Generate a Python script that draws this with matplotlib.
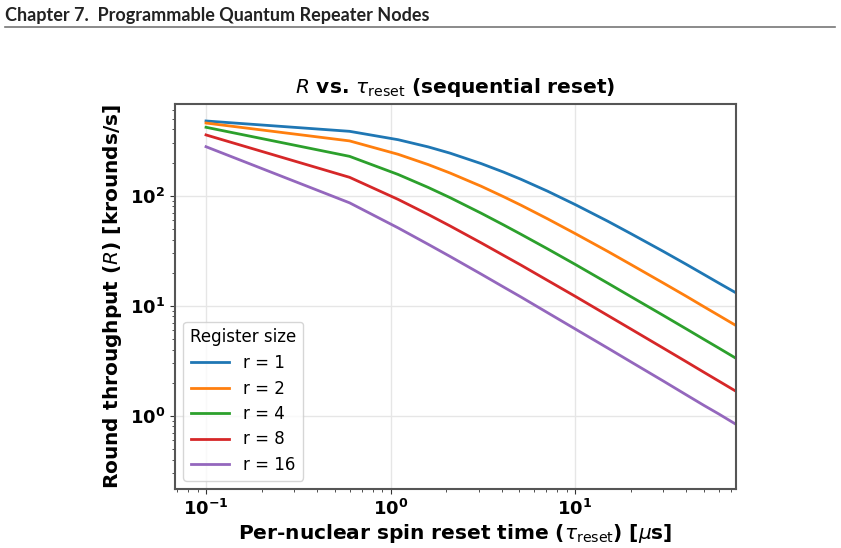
import numpy as np
import matplotlib.pyplot as plt

# reset time per nuclear spin [us]
tau = [0.1, 0.6, 1.1, 1.6, 2.1, 3.1, 4.1, 5.1, 7.1, 10.1, 15.1, 20.1, 30.1, 40.1, 50.1, 60.1, 74.6]

# round throughput [krounds/s], one list per register size
R_r1 = [478, 385, 323, 278, 244, 196, 164, 141, 110, 82.6, 58.5, 45.2, 31.2, 23.8, 19.2, 16.1, 13.1]
R_r2 = [458, 315, 238, 192, 161, 122, 98.0, 82.0, 61.7, 45.0, 31.1, 23.7, 16.1, 12.2, 9.78, 8.18, 6.61]
R_r4 = [419, 228, 156, 119, 96.2, 69.4, 54.3, 44.6, 32.9, 23.6, 16.0, 12.1, 8.17, 6.16, 4.94, 4.13, 3.33]
R_r8 = [357, 147, 92.6, 67.6, 53.2, 37.3, 28.7, 23.4, 17.0, 12.1, 8.14, 6.14, 4.12, 3.10, 2.48, 2.07, 1.67]
R_r16 = [279, 86.2, 51.0, 36.2, 28.1, 19.4, 14.8, 12.0, 8.65, 6.11, 4.11, 3.09, 2.07, 1.55, 1.24, 1.04, 0.836]

series = [R_r1, R_r2, R_r4, R_r8, R_r16]
labels = ['r = 1', 'r = 2', 'r = 4', 'r = 8', 'r = 16']
colors = ['#1f77b4', '#ff7f0e', '#2ca02c', '#d62728', '#9467bd']

fig = plt.figure(figsize=(8.41, 5.48), dpi=100)

# page header
fig.text(5 / 841, 1 - 15 / 548, 'Chapter 7.  Programmable Quantum Repeater Nodes',
         fontsize=13, fontweight='bold', family='Lato', va='center', ha='left',
         color='#222222')
fig.add_artist(plt.Line2D([5 / 841, 835 / 841], [1 - 27 / 548, 1 - 27 / 548],
                          color='#777777', lw=1.2))

ax = fig.add_axes([175 / 841, 1 - 489 / 548, (736 - 175) / 841, (489 - 104) / 548])

for vals, lab, c in zip(series, labels, colors):
    ax.plot(tau, vals, color=c, lw=2, label=lab)

ax.set_xscale('log')
ax.set_yscale('log')
ax.set_xlim(0.0679, 74.6)
ax.set_ylim(0.216, 682)
ax.grid(True, which='major', color='#e6e6e6', lw=1)

for sp in ax.spines.values():
    sp.set_color('#555555')
    sp.set_linewidth(1.5)

ax.tick_params(which='both', colors='#333333', labelcolor='black')
for t in ax.get_xticklabels() + ax.get_yticklabels():
    t.set_fontweight('bold')
ax.tick_params(axis='both', which='major', labelsize=13)

ax.set_title(r'$R$ vs. $\tau_{\rm reset}$ (sequential reset)', fontsize=14.5,
             fontweight='bold', pad=8)
ax.set_xlabel(r'Per-nuclear spin reset time ($\tau_{\rm reset}$) [$\mu$s]',
              fontsize=14.5, fontweight='bold', labelpad=2)
ax.set_ylabel(r'Round throughput ($R$) [krounds/s]', fontsize=14.5,
              fontweight='bold', labelpad=4)

leg = ax.legend(title='Register size', loc='lower left', fontsize=12,
                title_fontsize=12, handlelength=2.3, labelspacing=0.45,
                prop={'family': 'DejaVu Sans', 'size': 12})
leg.get_title().set_family('DejaVu Sans')

fig.savefig('out.png', dpi=100)
